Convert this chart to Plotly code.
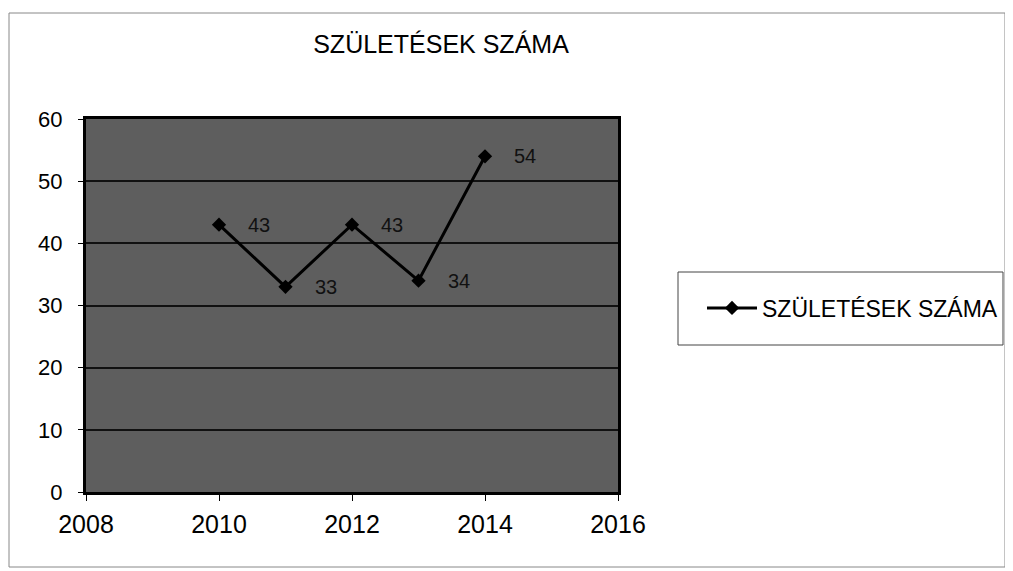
import plotly.graph_objects as go

years = [2010, 2011, 2012, 2013, 2014]
births = [43, 33, 43, 34, 54]
series_name = "SZÜLETÉSEK SZÁMA"
title_text = "SZÜLETÉSEK SZÁMA"

FONT = "Liberation Sans, Arial, sans-serif"

# page body has an 8px margin; figure sized to fit the window
W, H = 1005, 563

fig = go.Figure()
fig.add_trace(go.Scatter(
    x=years, y=births, mode="lines+markers", name=series_name,
    line=dict(color="black", width=3),
    marker=dict(symbol="diamond", size=11, color="black"),
))

for xv, yv in zip(years, births):
    fig.add_annotation(x=xv, y=yv, text=str(yv), showarrow=False,
                       xanchor="left", yanchor="middle", xshift=27,
                       font=dict(family=FONT, size=20, color="#111"))

# screen-pixel helpers (plot area spans screen x 86..618, y 119..492)
def px_x(p):
    return (p - 86) / 532.0

def px_y(p):
    return (492 - p) / 373.0

fig.add_shape(type="rect", xref="paper", yref="paper",
              x0=px_x(9), x1=px_x(1005), y0=px_y(567), y1=px_y(13),
              line=dict(color="#888", width=1), layer="below")
fig.add_shape(type="rect", xref="paper", yref="paper",
              x0=px_x(678), x1=px_x(1003), y0=px_y(345), y1=px_y(272),
              line=dict(color="#444", width=1))

fig.update_layout(
    width=W, height=H,
    margin=dict(l=78, r=W - 610, t=111, b=H - 484, autoexpand=False),
    paper_bgcolor="white",
    plot_bgcolor="#5e5e5e",
    font=dict(family=FONT, color="black"),
    title=dict(text=title_text, x=(441 - 8) / W, xanchor="center",
               y=1 - 36 / H, yanchor="middle", yref="container",
               font=dict(family=FONT, size=25, color="black")),
    showlegend=True,
    legend=dict(x=px_x(702), xanchor="left", y=px_y(308), yanchor="middle",
                bgcolor="rgba(0,0,0,0)", borderwidth=0, itemwidth=50,
                font=dict(family=FONT, size=23, color="black")),
    xaxis=dict(range=[2008, 2016], dtick=2, tick0=2008, showgrid=False,
               zeroline=False, showline=True, linecolor="black", linewidth=3,
               mirror=True, ticks="outside", ticklen=6, tickcolor="black",
               ticklabelstandoff=2,
               tickfont=dict(family=FONT, size=25, color="black")),
    yaxis=dict(range=[0, 60], dtick=10, showgrid=True, gridcolor="#111",
               gridwidth=2, zeroline=False, showline=True, linecolor="black",
               linewidth=3, mirror=True, ticks="outside", ticklen=5,
               tickcolor="black", ticklabelstandoff=11,
               tickfont=dict(family=FONT, size=22, color="black")),
)

fig.write_html("out.html")
